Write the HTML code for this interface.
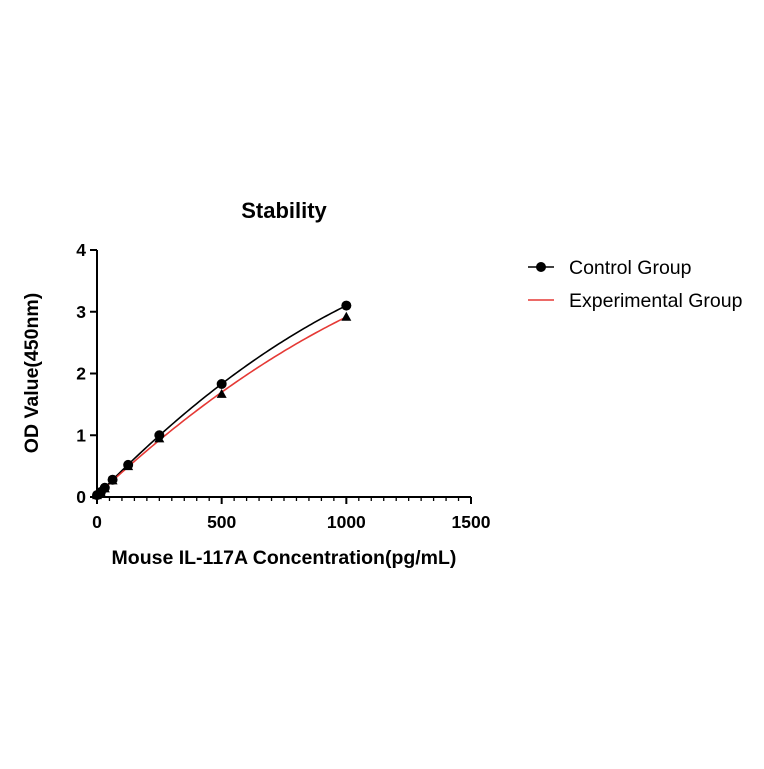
<!DOCTYPE html>
<html><head><meta charset="utf-8"><style>
body{margin:0;background:#fff;width:764px;height:764px;overflow:hidden}
svg text{font-family:"Liberation Sans",Arial,sans-serif}
</style></head><body>
<svg id="chart" width="764" height="764">
<text x="284" y="218" text-anchor="middle" font-size="22" font-weight="bold">Stability</text>
<g id="axes"></g>
<g id="plot"></g>
<text x="284" y="564" text-anchor="middle" font-size="19.5" font-weight="bold">Mouse IL-117A Concentration(pg/mL)</text>
<text transform="translate(38,373) rotate(-90)" text-anchor="middle" font-size="19.5" font-weight="bold">OD Value(450nm)</text>
<g>
<g>
<line x1="528" y1="267" x2="554" y2="267" stroke="#000" stroke-width="1.5"/>
<circle cx="541" cy="267" r="5" fill="#000"/>
<text x="569" y="274" font-size="19.5">Control Group</text></g>
<g>
<line x1="528" y1="300" x2="554" y2="300" stroke="#e53935" stroke-width="1.5"/>
<text x="569" y="307" font-size="19.5">Experimental Group</text></g>
</g>
</svg>
<script>
const concentrations=[0,15.6,31.25,62.5,125,250,500,1000];
const controlValues=[0.03,0.08,0.15,0.28,0.52,1.0,1.83,3.1];
const experimentalValues=[0.03,0.07,0.14,0.27,0.5,0.95,1.67,2.92];
const xTicks=[0,500,1000,1500];
const yTicks=[0,1,2,3,4];
const NS="http://www.w3.org/2000/svg";
const X=v=>97+v*(374/1500);
const Y=v=>497-v*(247/4);
function mk(tag,attrs,parent){const e=document.createElementNS(NS,tag);for(const k in attrs)e.setAttribute(k,attrs[k]);parent.appendChild(e);return e;}
const axes=document.getElementById('axes'),plot=document.getElementById('plot');
let a=mk('line',{x1:X(0),y1:Y(0),x2:X(1500),y2:Y(0),stroke:'#000','stroke-width':2},axes);


a=mk('line',{x1:X(0),y1:Y(0),x2:X(0),y2:Y(4),stroke:'#000','stroke-width':2},axes);


for(let v=0;v<=1500;v+=50){const major=v%500===0;mk('line',{x1:X(v),y1:Y(0),x2:X(v),y2:Y(0)+(major?7:4),stroke:'#000','stroke-width':major?2:1.3},axes);}
xTicks.forEach(v=>{const t=mk('text',{x:X(v),y:528,'text-anchor':'middle','font-size':17.5,'font-weight':'bold'},axes);t.textContent=v;

});
yTicks.forEach(v=>{mk('line',{x1:X(0)-7,y1:Y(v),x2:X(0),y2:Y(v),stroke:'#000','stroke-width':2},axes);
const t=mk('text',{x:X(0)-11,y:Y(v)+6,'text-anchor':'end','font-size':17.5,'font-weight':'bold'},axes);t.textContent=v;

});
function fitQuad(xs,ys){
 let S=[0,0,0,0,0],T=[0,0,0];
 xs.forEach((x,i)=>{let p=1;for(let k=0;k<5;k++){S[k]+=p;if(k<3)T[k]+=p*ys[i];p*=x;}});
 const M=[[S[0],S[1],S[2],T[0]],[S[1],S[2],S[3],T[1]],[S[2],S[3],S[4],T[2]]];
 for(let i=0;i<3;i++){for(let j=i+1;j<3;j++){const f=M[j][i]/M[i][i];for(let k=i;k<4;k++)M[j][k]-=f*M[i][k];}}
 const r=[0,0,0];for(let i=2;i>=0;i--){let s=M[i][3];for(let k=i+1;k<3;k++)s-=M[i][k]*r[k];r[i]=s/M[i][i];}
 return r;
}
function curve(vals,color,name){
 const c=fitQuad(concentrations,vals);
 const xmax=concentrations[concentrations.length-1];
 let d='';
 for(let i=0;i<=100;i++){const x=xmax*i/100;const y=c[0]+c[1]*x+c[2]*x*x;d+=(i?'L':'M')+X(x).toFixed(2)+','+Y(y).toFixed(2);}
 const e=mk('path',{d:d,fill:'none',stroke:color,'stroke-width':1.6},plot);
 
 
}
curve(controlValues,'#000','control-curve');
curve(experimentalValues,'#e53935','experimental-curve');
experimentalValues.forEach((v,i)=>{const x=X(concentrations[i]),y=Y(v);
 const e=mk('polygon',{points:`${x},${y-5} ${x-5},${y+4} ${x+5},${y+4}`,fill:'#000'},plot);
 
 });
controlValues.forEach((v,i)=>{
 const e=mk('circle',{cx:X(concentrations[i]),cy:Y(v),r:5,fill:'#000'},plot);
 
 });
</script>
</body></html>
